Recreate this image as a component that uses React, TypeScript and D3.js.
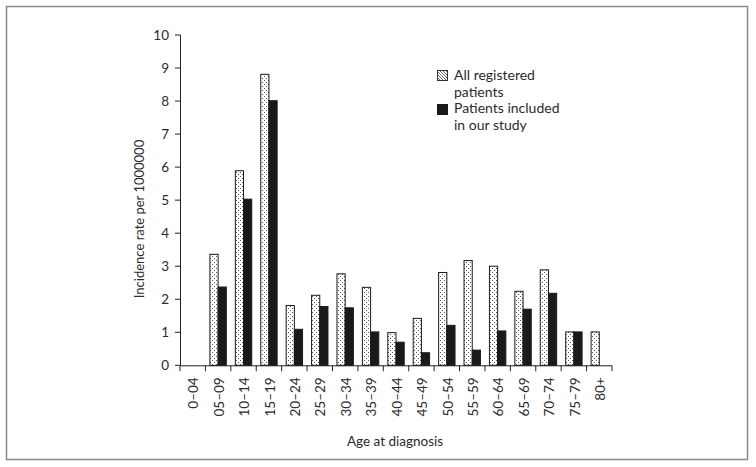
import React from "react";
import * as d3 from "d3";

const categories = ["0–04","05–09","10–14","15–19","20–24","25–29","30–34","35–39","40–44","45–49","50–54","55–59","60–64","65–69","70–74","75–79","80+"];
const allRegistered: (number | null)[] = [null,3.36,5.89,8.81,1.81,2.12,2.77,2.36,0.99,1.42,2.81,3.17,3.0,2.24,2.89,1.01,1.01];
const includedInStudy: (number | null)[] = [null,2.37,5.03,8.01,1.09,1.78,1.74,1.01,0.7,0.38,1.21,0.46,1.04,1.7,2.18,1.01,null];
const seriesKeys = ["all", "study"];
const yTicks = [0,1,2,3,4,5,6,7,8,9,10];

const W = 756, H = 467;
const FONT = "Lato, 'Open Sans', sans-serif";
const TXT = "#2b2b2b";

export default function App() {
  const x = d3.scaleBand<string>().domain(categories).range([180, 612]).paddingInner(0).paddingOuter(0);
  const xs = d3.scaleBand<string>().domain(seriesKeys).range([0, x.bandwidth()]).paddingInner(0).paddingOuter(0.55);
  const y = d3.scaleLinear().domain([0, 10]).range([365.3, 35]);
  const y0 = y(0);

  const bars: { key: string; cat: string; v: number }[] = [];
  categories.forEach((c, i) => {
    const a = allRegistered[i];
    const s = includedInStudy[i];
    if (a != null) bars.push({ key: "all", cat: c, v: a });
    if (s != null) bars.push({ key: "study", cat: c, v: s });
  });

  const boundaries = categories.map((c) => x(c)!).concat([x.range()[1]]);

  return (
    <svg width={W} height={H} style={{ position: "absolute", left: 0, top: 0, background: "#fff" }}>
      <defs>
        <pattern id="dots" width="4" height="4" patternUnits="userSpaceOnUse">
          <rect width="4" height="4" fill="#fff" />
          <rect x="0" y="0" width="1" height="1" fill="#555" />
          <rect x="2" y="2" width="1" height="1" fill="#555" />
        </pattern>
        <pattern id="diag" width="3" height="3" patternUnits="userSpaceOnUse">
          <rect width="3" height="3" fill="#fff" />
          <path d="M0,0 L3,3" stroke="#444" strokeWidth="0.8" />
        </pattern>
      </defs>
      <rect x={6.5} y={6.5} width={741} height={453} fill="none" stroke="#8a8a8a" strokeWidth={1.5} />

      {/* y axis */}
      <line x1={180.5} x2={180.5} y1={y(10)} y2={y0} stroke="#222" strokeWidth={1} />
      {yTicks.map((t) => (
        <g key={t}>
          <line x1={175} x2={180.5} y1={y(t)} y2={y(t)} stroke="#222" strokeWidth={1} />
          <text x={169} y={y(t)} dy="0.35em" textAnchor="end" fontFamily={FONT} fontSize={13.5} fill={TXT}>{t}</text>
        </g>
      ))}
      <text transform={`translate(144,219) rotate(-90)`} textAnchor="middle" fontFamily={FONT} fontSize={13} fill={TXT}>
        Incidence rate per 1000000
      </text>

      {/* bars */}
      {bars.map((b, i) => (
        <rect
          key={i}
          x={x(b.cat)! + xs(b.key)!}
          y={y(b.v)}
          width={xs.bandwidth()}
          height={y0 - y(b.v)}
          fill={b.key === "all" ? "url(#dots)" : "#1a1a1a"}
          stroke="#1a1a1a"
          strokeWidth={1}
        />
      ))}

      {/* x axis */}
      <line x1={180} x2={612} y1={y0 + 0.5} y2={y0 + 0.5} stroke="#222" strokeWidth={1} />
      {boundaries.map((bx, i) => (
        <line key={i} x1={bx} x2={bx} y1={y0} y2={y0 + 6} stroke="#222" strokeWidth={1} />
      ))}
      {categories.map((c) => (
        <text
          key={c}
          transform={`translate(${x(c)! + x.bandwidth() / 2 + 1},${y0 + 12}) rotate(-90)`}
          dy="0.35em"
          textAnchor="end"
          fontFamily={FONT}
          fontSize={13.5}
          fill={TXT}
        >
          {c}
        </text>
      ))}
      <text x={395} y={446} textAnchor="middle" fontFamily={FONT} fontSize={13.5} fill={TXT}>Age at diagnosis</text>

      {/* legend */}
      <rect x={437.5} y={70.5} width={10} height={10} fill="url(#diag)" stroke="#333" strokeWidth={1} />
      <rect x={437.5} y={104.5} width={10} height={10} fill="#1a1a1a" stroke="#1a1a1a" strokeWidth={1} />
      <g fontFamily={FONT} fontSize={14} fill={TXT}>
        <text x={454} y={80}>All registered</text>
        <text x={454} y={96.5}>patients</text>
        <text x={454} y={113}>Patients included</text>
        <text x={454} y={129.5}>in our study</text>
      </g>
    </svg>
  );
}
